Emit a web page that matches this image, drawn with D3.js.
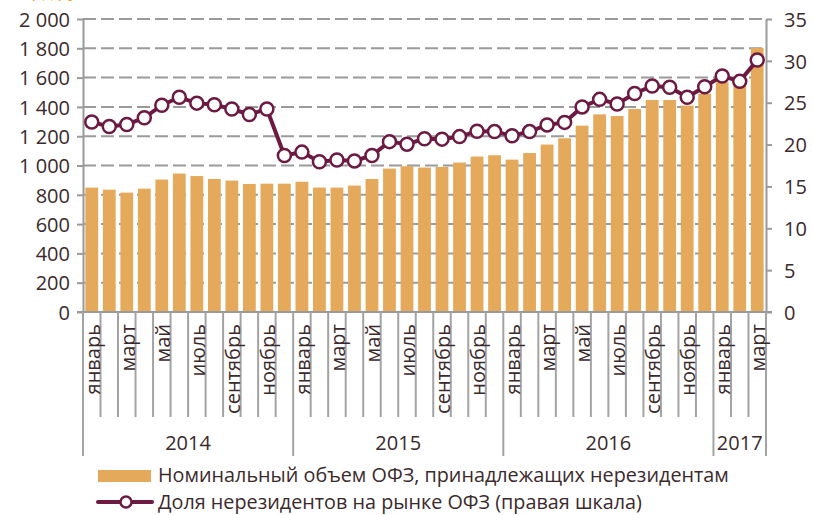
<!DOCTYPE html>
<html>
<head>
  <meta charset="utf-8">
  <title>ОФЗ нерезиденты</title>
  <script src="https://d3js.org/d3.v7.min.js"></script>
  <style>
    body { margin: 0; background: #fff; }
    text { font-family: "Open Sans", sans-serif; fill: #3b2a2c; }
    .axis path, .axis line { stroke: #9a9a9a; stroke-width: 2; }
  </style>
</head>
<body>
<script>
  // Data
  var monthNames = ["январь", "февраль", "март", "апрель", "май", "июнь",
                    "июль", "август", "сентябрь", "октябрь", "ноябрь", "декабрь"];
  var years = ["2014", "2015", "2016", "2017"];
  var monthsPerYear = [12, 12, 12, 3];

  // номинальный объем, млрд руб. (левая шкала)
  var volume = [849, 835, 815, 842, 904, 945, 928, 908, 897, 874, 876, 876,
                889, 849, 849, 863, 908, 979, 995, 986, 990, 1020, 1061, 1070,
                1040, 1085, 1143, 1186, 1272, 1349, 1338, 1386, 1447, 1447, 1409, 1490,
                1568, 1590, 1802];
  // доля нерезидентов, % (правая шкала)
  var share = [22.7, 22.15, 22.4, 23.2, 24.7, 25.65, 24.95, 24.75, 24.25, 23.6, 24.25, 18.7,
               19.1, 17.95, 18.15, 18.05, 18.7, 20.35, 20.05, 20.7, 20.65, 20.95, 21.6, 21.55,
               21.05, 21.55, 22.35, 22.65, 24.5, 25.4, 24.85, 26.1, 27.0, 26.85, 25.65, 26.9,
               28.2, 27.55, 30.1];

  var leftTicks = [0, 200, 400, 600, 800, 1000, 1200, 1400, 1600, 1800, 2000];
  var rightTicks = [0, 5, 10, 15, 20, 25, 30, 35];

  var legendBar = "Номинальный объем ОФЗ, принадлежащих нерезидентам";
  var legendLine = "Доля нерезидентов на рынке ОФЗ (правая шкала)";

  // build periods
  var periods = [];
  years.forEach(function(y, yi) {
    for (var m = 0; m < monthsPerYear[yi]; m++) {
      periods.push({year: y, month: monthNames[m], idx: periods.length});
    }
  });

  // Consts
  var width = 813, height = 515;
  var plot = {left: 83, right: 766, top: 19, bottom: 312};
  var barColor = "#e5a95b";
  var lineColor = "#6c1a41";
  var gridColor = "#9a9a9a";

  var svg = d3.select("body").append("svg")
              .attr("width", width)
              .attr("height", height);

  // Scales
  var x = d3.scaleBand()
            .domain(d3.range(periods.length))
            .range([plot.left, plot.right])
            .paddingInner(0.27)
            .paddingOuter(0.135);
  var yL = d3.scaleLinear().domain([0, 2000]).range([plot.bottom, plot.top]);
  var yR = d3.scaleLinear().domain([0, 35]).range([plot.bottom, plot.top]);
  var step = x.step();
  var cx = function(i) { return x(i) + x.bandwidth() / 2; };

  // unit caption (cut at top, as in the source)
  svg.append("text")
     .attr("x", 8).attr("y", -3)
     .style("font-size", "18px")
     .style("fill", "#f0a030")
     .text("млрд руб. (левая шкала)");

  // Grid
  svg.append("g").selectAll("line")
     .data(leftTicks.filter(function(d) { return d > 0; }))
     .enter().append("line")
       .attr("x1", plot.left).attr("x2", plot.right)
       .attr("y1", function(d) { return yL(d); })
       .attr("y2", function(d) { return yL(d); })
       .attr("stroke", gridColor)
       .attr("stroke-width", 2)
       .attr("stroke-dasharray", "13,5");

  // Bars
  svg.append("g").selectAll("rect")
     .data(volume)
     .enter().append("rect")
       .attr("x", function(d, i) { return x(i); })
       .attr("width", x.bandwidth())
       .attr("y", function(d) { return yL(d); })
       .attr("height", function(d) { return yL(0) - yL(d); })
       .attr("fill", barColor);

  // Left axis
  var axL = svg.append("g")
     .attr("class", "axis")
     .attr("transform", "translate(" + plot.left + ",0)")
     .call(d3.axisLeft(yL).tickValues(leftTicks).tickSize(6).tickSizeOuter(0)
             .tickFormat(function(d) { return d3.format(",")(d).replace(",", " "); }));
  axL.selectAll("text").style("font-size", "20px").attr("x", -13).attr("dy", "0.36em");

  // Right axis
  var axR = svg.append("g")
     .attr("class", "axis")
     .attr("transform", "translate(" + plot.right + ",0)")
     .call(d3.axisRight(yR).tickValues(rightTicks).tickSize(6).tickSizeOuter(0));
  axR.selectAll("text").style("font-size", "20px").attr("x", 18).attr("dy", "0.36em");
  svg.selectAll(".axis text").attr("fill", "#3b2a2c");

  // X axis baseline
  svg.append("line")
     .attr("x1", plot.left - 6).attr("x2", plot.right + 6)
     .attr("y1", plot.bottom).attr("y2", plot.bottom)
     .attr("stroke", gridColor).attr("stroke-width", 2);

  // Category separators
  var yearStarts = [0];
  monthsPerYear.forEach(function(n, i) { yearStarts.push(yearStarts[i] + n); });
  svg.append("g").selectAll("line")
     .data(d3.range(periods.length + 1))
     .enter().append("line")
       .attr("x1", function(i) { return plot.left + i * step; })
       .attr("x2", function(i) { return plot.left + i * step; })
       .attr("y1", plot.bottom)
       .attr("y2", function(i) { return yearStarts.indexOf(i) >= 0 ? 456 : 417; })
       .attr("stroke", "#a3a3a3")
       .attr("stroke-width", 2);

  // Month labels
  svg.append("g").selectAll("text")
     .data(periods.filter(function(p) { return p.idx % 2 === 0; }))
     .enter().append("text")
       .attr("transform", function(p) { return "translate(" + (cx(p.idx) + 1) + ",324) rotate(-90)"; })
       .attr("text-anchor", "end")
       .attr("dy", "0.36em")
       .style("font-size", "20px")
       .text(function(p) { return p.month; });

  // Year labels
  svg.append("g").selectAll("text")
     .data(years)
     .enter().append("text")
       .attr("x", function(y, i) { return plot.left + (yearStarts[i] + yearStarts[i + 1]) / 2 * step; })
       .attr("y", 450)
       .attr("text-anchor", "middle")
       .style("font-size", "20px")
       .text(function(y) { return y; });

  // Line
  var line = d3.line()
               .x(function(d, i) { return cx(i); })
               .y(function(d) { return yR(d); });
  svg.append("path")
     .datum(share)
     .attr("d", line)
     .attr("fill", "none")
     .attr("stroke", lineColor)
     .attr("stroke-width", 4);
  svg.append("g").selectAll("circle")
     .data(share)
     .enter().append("circle")
       .attr("cx", function(d, i) { return cx(i); })
       .attr("cy", function(d) { return yR(d); })
       .attr("r", 6.5)
       .attr("fill", "#fff")
       .attr("stroke", lineColor)
       .attr("stroke-width", 2.5);

  // Legend
  var lg = svg.append("g");
  lg.append("rect")
    .attr("x", 98).attr("y", 470).attr("width", 53).attr("height", 12)
    .attr("fill", barColor);
  lg.append("text")
    .attr("x", 158).attr("y", 482)
    .style("font-size", "19.8px")
    .text(legendBar);
  lg.append("line")
    .attr("x1", 98).attr("x2", 152).attr("y1", 502).attr("y2", 502)
    .attr("stroke", lineColor).attr("stroke-width", 4)
    .attr("stroke-linecap", "round");
  lg.append("circle")
    .attr("cx", 126).attr("cy", 502).attr("r", 5.5)
    .attr("fill", "#fff").attr("stroke", lineColor).attr("stroke-width", 2.5);
  lg.append("text")
    .attr("x", 158).attr("y", 509)
    .style("font-size", "19.8px")
    .text(legendLine);
</script>
</body>
</html>
